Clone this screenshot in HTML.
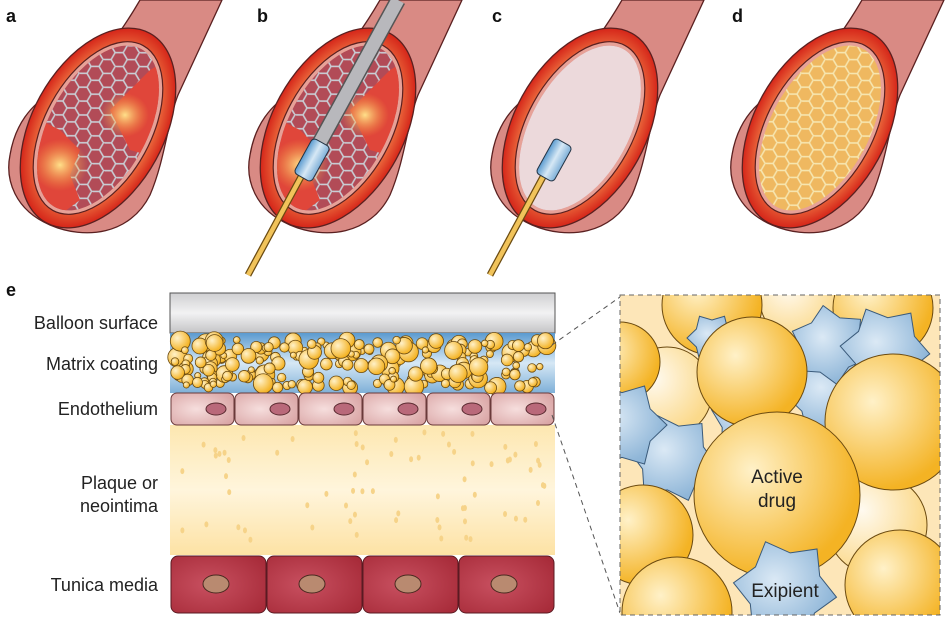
<!DOCTYPE html>
<html><head><meta charset="utf-8"><style>
html,body{margin:0;padding:0;background:#fff;width:946px;height:621px;overflow:hidden}
svg{display:block}
text{font-family:"Liberation Sans",sans-serif}
</style></head><body>
<svg id="s" width="946" height="621" viewBox="0 0 946 621" xmlns="http://www.w3.org/2000/svg">
<defs>
<pattern id="hex" width="24" height="14" patternUnits="userSpaceOnUse" patternTransform="rotate(-60)">
<path d="M0,7 L4,0 L12,0 L16,7 L12,14 L4,14 Z M16,7 L24,7" fill="none" stroke="#c9cfd6" stroke-width="1.6"/>
</pattern>
<pattern id="hexy" width="24" height="14" patternUnits="userSpaceOnUse" patternTransform="rotate(-60)">
<path d="M0,7 L4,0 L12,0 L16,7 L12,14 L4,14 Z M16,7 L24,7" fill="none" stroke="#f6e6b0" stroke-width="1.6"/>
</pattern>
<radialGradient id="ring" cx="50%" cy="50%" r="50%"><stop offset="75%" stop-color="#f07a45"/><stop offset="100%" stop-color="#d52519"/></radialGradient>
<radialGradient id="plq"><stop offset="0" stop-color="#ffe08a"/><stop offset="1" stop-color="#f39a3c" stop-opacity="0"/></radialGradient>
<radialGradient id="yb" cx="35%" cy="35%" r="65%"><stop offset="0" stop-color="#fff1c8"/><stop offset="1" stop-color="#f4b324"/></radialGradient>
<radialGradient id="ypale" cx="35%" cy="35%" r="65%"><stop offset="0" stop-color="#fffaf0"/><stop offset="1" stop-color="#fbd98a"/></radialGradient>
<radialGradient id="bs" cx="40%" cy="40%" r="60%"><stop offset="0" stop-color="#dbe9f5"/><stop offset="1" stop-color="#8fb6d8"/></radialGradient>
<linearGradient id="grey" x1="0" y1="0" x2="0" y2="1"><stop offset="0" stop-color="#cfcfd1"/><stop offset="0.5" stop-color="#f2f2f3"/><stop offset="1" stop-color="#c4c4c6"/></linearGradient>
<linearGradient id="blue" x1="0" y1="0" x2="0" y2="1"><stop offset="0" stop-color="#5b9bd0"/><stop offset="0.5" stop-color="#d6e8f5"/><stop offset="1" stop-color="#7fb0d8"/></linearGradient>
<linearGradient id="plaque" x1="0" y1="0" x2="0" y2="1"><stop offset="0" stop-color="#fde7b0"/><stop offset="0.5" stop-color="#fff5dc"/><stop offset="1" stop-color="#fde2a4"/></linearGradient>
<radialGradient id="cell" cx="40%" cy="50%" r="70%"><stop offset="0" stop-color="#f6dedd"/><stop offset="1" stop-color="#d9a4a4"/></radialGradient>
<radialGradient id="cellr" cx="40%" cy="50%" r="70%"><stop offset="0" stop-color="#c85060"/><stop offset="1" stop-color="#a82c3a"/></radialGradient>
<g id="vessel">
<path d="M140,0 L222,0 L178,95 C168,120 165,160 150,195 C130,235 85,240 50,225 C15,210 5,180 10,155 C15,125 30,105 55,90 C85,72 105,60 140,0 Z" fill="#d98a84" stroke="#5a2020" stroke-width="1.3"/>
<ellipse cx="98" cy="128" rx="108" ry="66" transform="rotate(118.7 98 128)" fill="url(#ring)" stroke="#5a2020" stroke-width="1.3"/>
<ellipse cx="98" cy="128" rx="94" ry="53" transform="rotate(118.7 98 128)" fill="#e7a197" stroke="#5a2020" stroke-width="1.2"/>
</g>
<clipPath id="lum"><ellipse cx="98" cy="128" rx="90" ry="49" transform="rotate(118.7 98 128)"/></clipPath>
</defs>

<g>
<use href="#vessel"/>
<g clip-path="url(#lum)"><rect x="0" y="0" width="230" height="240" fill="#b24b57"/><rect x="0" y="0" width="230" height="240" fill="url(#hex)"/>
<path d="M20,110 L60,130 L80,150 L70,175 L80,200 L40,230 L0,200 Z" fill="#e0463a"/><ellipse cx="60" cy="165" rx="28" ry="26" fill="url(#plq)"/>
<path d="M200,40 L150,70 L110,110 L120,130 L130,150 L200,170 Z" fill="#e0463a"/><ellipse cx="125" cy="115" rx="24" ry="22" fill="url(#plq)"/></g>
</g>
<g transform="translate(240,0)">
<use href="#vessel"/>
<g clip-path="url(#lum)"><rect x="0" y="0" width="230" height="240" fill="#b24b57"/><rect x="0" y="0" width="230" height="240" fill="url(#hex)"/>
<path d="M20,110 L60,130 L80,150 L70,175 L80,200 L40,230 L0,200 Z" fill="#e0463a"/><ellipse cx="60" cy="165" rx="28" ry="26" fill="url(#plq)"/>
<path d="M200,40 L150,70 L110,110 L120,130 L130,150 L200,170 Z" fill="#e0463a"/><ellipse cx="125" cy="115" rx="24" ry="22" fill="url(#plq)"/></g>
<line x1="158" y1="0" x2="62" y2="175" stroke="#555" stroke-width="16"/>
<line x1="158" y1="0" x2="62" y2="175" stroke="#b8b8bc" stroke-width="13"/>
<line x1="62" y1="175" x2="8" y2="275" stroke="#6a4a10" stroke-width="7"/>
<line x1="62" y1="175" x2="8" y2="275" stroke="#f1c35a" stroke-width="4.5"/>
<g transform="rotate(-61 72 160)"><rect x="52" y="150" width="40" height="20" rx="4" fill="url(#blue)" stroke="#234" stroke-width="1"/></g>
</g>
<g transform="translate(482,0)">
<use href="#vessel"/>
<g clip-path="url(#lum)"><rect x="0" y="0" width="230" height="240" fill="#c3606a"/></g>
<ellipse cx="98" cy="128" rx="90" ry="49" transform="rotate(118.7 98 128)" fill="#f3eeee" opacity="0.85"/>
<line x1="62" y1="175" x2="8" y2="275" stroke="#6a4a10" stroke-width="7"/>
<line x1="62" y1="175" x2="8" y2="275" stroke="#f1c35a" stroke-width="4.5"/>
<g transform="rotate(-61 72 160)"><rect x="52" y="150" width="40" height="20" rx="4" fill="url(#blue)" stroke="#234" stroke-width="1"/></g>
</g>
<g transform="translate(722,0)">
<use href="#vessel"/>
<g clip-path="url(#lum)"><rect x="0" y="0" width="230" height="240" fill="#efb860"/><rect x="0" y="0" width="230" height="240" fill="url(#hexy)"/></g>
</g>

<g font-weight="bold" font-size="18" fill="#111">
<text x="6" y="22">a</text><text x="257" y="22">b</text><text x="492" y="22">c</text><text x="732" y="22">d</text><text x="6" y="296">e</text>
</g>

<rect x="170" y="293" width="385" height="40" fill="url(#grey)" stroke="#555" stroke-width="1"/>
<rect x="170" y="333" width="385" height="60" fill="url(#blue)"/>
<g id="bub"></g>
<rect x="170" y="425" width="385" height="130" fill="url(#plaque)"/>
<g id="dots" fill="#f6d389"></g>
<g id="endo"></g>
<g id="media"></g>

<g font-size="18" fill="#222" text-anchor="end">
<text x="158" y="329">Balloon surface</text>
<text x="158" y="370">Matrix coating</text>
<text x="158" y="415">Endothelium</text>
<text x="158" y="489">Plaque or</text>
<text x="158" y="512">neointima</text>
<text x="158" y="591">Tunica media</text>
</g>

<line x1="552" y1="345" x2="620" y2="297" stroke="#555" stroke-dasharray="5,4"/>
<line x1="552" y1="415" x2="620" y2="613" stroke="#555" stroke-dasharray="5,4"/>

<clipPath id="box"><rect x="620" y="295" width="320" height="320"/></clipPath>
<g clip-path="url(#box)">
<rect x="620" y="295" width="320" height="320" fill="#fde6b8"/>
<g stroke="#6b4a10" stroke-width="1">
<circle cx="667" cy="392" r="45" fill="url(#ypale)"/>
<circle cx="877" cy="525" r="50" fill="url(#ypale)"/>
<circle cx="800" cy="300" r="40" fill="url(#ypale)"/>
<circle cx="620" cy="362" r="40" fill="url(#yb)"/>
<circle cx="712" cy="305" r="50" fill="url(#yb)"/>
<circle cx="883" cy="308" r="50" fill="url(#yb)"/>
</g>
<g id="stars" fill="url(#bs)" stroke="#3a5a7a" stroke-width="1"></g>
<g stroke="#6b4a10" stroke-width="1">
<circle cx="752" cy="372" r="55" fill="url(#yb)"/>
<circle cx="893" cy="422" r="68" fill="url(#yb)"/>
<circle cx="643" cy="535" r="50" fill="url(#yb)"/>
<circle cx="900" cy="585" r="55" fill="url(#yb)"/>
<circle cx="677" cy="612" r="55" fill="url(#yb)"/>
<circle cx="777" cy="495" r="83" fill="url(#yb)"/>
</g>
<g id="stars2" fill="url(#bs)" stroke="#3a5a7a" stroke-width="1"></g>
</g>
<rect x="620" y="295" width="320" height="320" fill="none" stroke="#666" stroke-dasharray="5,4"/>
<text x="777" y="483" font-size="19" text-anchor="middle" fill="#222">Active</text>
<text x="777" y="507" font-size="19" text-anchor="middle" fill="#222">drug</text>
<text x="785" y="597" font-size="19" text-anchor="middle" fill="#222">Exipient</text>
</svg>
<script>
var NS="http://www.w3.org/2000/svg";
function el(p,t,a){var e=document.createElementNS(NS,t);for(var k in a)e.setAttribute(k,a[k]);document.getElementById(p).appendChild(e);return e;}
var seed=7;function r(){seed=(seed*9301+49297)%233280;return seed/233280;}
for(var i=0;i<230;i++){var rad=r()<0.3?6+r()*4:3+r()*3;el("bub","circle",{cx:175+r()*375,cy:340+r()*48,r:rad,fill:"url(#yb)",stroke:"#6b4a10","stroke-width":0.8});}
for(var i=0;i<70;i++){el("dots","ellipse",{cx:175+r()*375,cy:432+r()*115,rx:2,ry:3});}
for(var i=0;i<6;i++){var x=171+i*64;el("endo","rect",{x:x,y:393,width:63,height:32,rx:6,fill:"url(#cell)",stroke:"#6a3a3a"});el("endo","ellipse",{cx:x+45,cy:409,rx:10,ry:6,fill:"#b9697a",stroke:"#5a2a30"});}
for(var i=0;i<4;i++){var x=171+i*96;el("media","rect",{x:x,y:556,width:95,height:57,rx:7,fill:"url(#cellr)",stroke:"#5a1a22"});el("media","ellipse",{cx:x+45,cy:584,rx:13,ry:9,fill:"#b98a70",stroke:"#4a2a20"});}
function star(p,cx,cy,R,rot){var pts=[];for(var i=0;i<12;i++){var a=(i*30+rot)*Math.PI/180;var rr=i%2?R*0.72:R;pts.push((cx+rr*Math.cos(a)).toFixed(1)+","+(cy+rr*Math.sin(a)).toFixed(1));}el(p,"polygon",{points:pts.join(" ")});}
star("stars",673,458,45,10);star("stars",830,395,45,0);star("stars",830,345,40,20);star("stars",885,350,45,5);star("stars",750,420,40,15);star("stars",712,338,25,0);star("stars",622,425,45,0);
star("stars2",785,590,52,8);
</script>
</body></html>
